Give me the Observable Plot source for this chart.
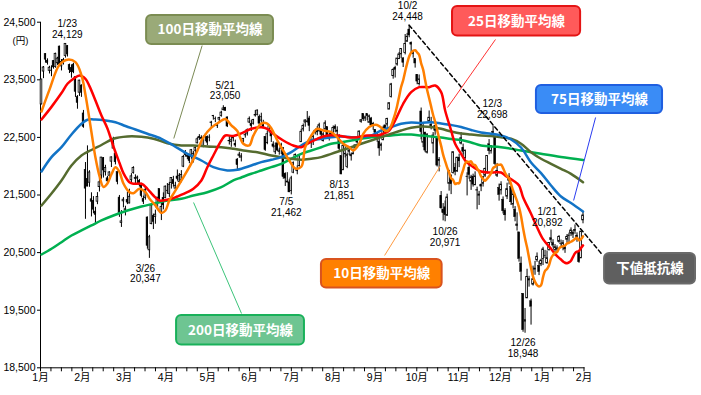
<!DOCTYPE html>
<html><head><meta charset="utf-8">
<script src="https://cdn.jsdelivr.net/npm/d3@7"></script>
<script src="https://cdn.jsdelivr.net/npm/@observablehq/plot@0.6"></script>
<style>
html,body{margin:0;padding:0;background:#fff;}
#chart{width:701px;height:395px;overflow:hidden;}
</style></head><body><div id="chart"></div>
<script>
// Daily candles [open, high, low, close], Nikkei 225, Jan 2018 – Feb 13 2019
const jan18 = [[23073,23506,23065,23506],[23643,23730,23520,23714],[23948,23952,23789,23849],[23832,23864,23755,23788],[23656,23734,23601,23710],[23660,23743,23554,23653],[23827,23833,23685,23714],[23721,23962,23701,23951],[23788,23891,23750,23868],[24078,24084,23735,23763],[23733,23852,23654,23808],[23840,23872,23756,23816],[23913,24129,23877,24124],[24085,24094,23896,23940],[23758,23773,23609,23669],[23707,23759,23528,23631],[23764,23787,23606,23629],[23550,23553,23194,23291],[23198,23226,22989,23098]];
const feb18 = [[23276,23492,23211,23486],[23401,23413,23195,23274],[22916,22968,22659,22682],[21937,22064,21078,21610],[21781,22353,21644,21645],[21713,21922,21634,21891],[21426,21538,21119,21383],[21400,21472,21175,21245],[21212,21287,21000,21154],[21384,21541,21332,21464],[21637,21789,21552,21720],[21838,22152,21773,22150],[22139,22151,21794,21925],[21895,22016,21829,21970],[21790,21822,21701,21736],[21834,21904,21760,21892],[22079,22160,21977,22153],[22306,22502,22296,22389],[22220,22228,22022,22068]];
const mar18 = [[21901,21901,21677,21724],[21455,21492,21112,21182],[21016,21229,20937,21042],[21390,21455,21277,21418],[21241,21305,21137,21253],[21417,21551,21333,21368],[21353,21600,21347,21469],[21756,21871,21687,21824],[21884,21991,21862,21968],[21797,21850,21678,21777],[21784,21829,21695,21803],[21745,21770,21639,21676],[21663,21703,21450,21480],[21428,21480,21335,21380],[21450,21645,21411,21591],[21110,21120,20560,20617],[20540,20800,20400,20766],[20994,21317,20983,21317],[21134,21168,20900,21031],[21119,21237,20992,21159],[21280,21454,21251,21454]];
const apr18 = [[21603,21603,21369,21388],[21207,21354,21056,21292],[21446,21537,21242,21319],[21443,21656,21443,21645],[21575,21699,21512,21567],[21519,21719,21459,21678],[21707,21794,21603,21794],[21757,21824,21638,21687],[21611,21721,21589,21660],[21821,21934,21743,21778],[21726,21872,21707,21835],[21755,21923,21712,21847],[21992,22187,21975,22158],[22208,22272,22158,22191],[22173,22205,22114,22162],[22191,22191,22044,22088],[22163,22291,22123,22278],[22092,22256,22056,22215],[22268,22335,22175,22319],[22397,22495,22387,22467]];
const may18 = [[22487,22548,22448,22508],[22493,22528,22428,22472],[22344,22524,22321,22467],[22518,22563,22427,22508],[22508,22525,22353,22408],[22496,22544,22424,22497],[22751,22779,22673,22758],[22868,22882,22799,22865],[22823,22853,22756,22818],[22699,22740,22655,22717],[22808,22852,22759,22838],[22870,22954,22851,22930],[22973,23050,22961,23002],[23014,23022,22953,22960],[22847,22856,22671,22689],[22433,22515,22367,22437],[22420,22503,22328,22450],[22493,22531,22422,22481],[22390,22452,22327,22358],[22115,22133,21931,22018],[22181,22242,22139,22201]];
const jun18 = [[22149,22218,22074,22171],[22426,22478,22400,22475],[22536,22568,22487,22539],[22566,22646,22524,22625],[22758,22856,22741,22823],[22730,22792,22603,22694],[22737,22813,22713,22804],[22886,22966,22852,22878],[22892,22975,22870,22966],[22851,22889,22711,22738],[22792,22920,22729,22851],[22736,22797,22655,22680],[22508,22511,22258,22278],[22401,22612,22373,22555],[22611,22714,22573,22693],[22556,22556,22412,22516],[22378,22424,22314,22338],[22241,22402,22199,22342],[22397,22459,22256,22271],[22245,22312,22191,22270],[22365,22398,22203,22304]];
const jul18 = [[22318,22318,21774,21811],[21864,21885,21648,21785],[21735,21888,21706,21717],[21719,21763,21540,21546],[21569,21825,21502,21788],[21887,22075,21869,22052],[22139,22214,22110,22196],[21914,22006,21851,21932],[22001,22203,21986,22187],[22417,22641,22417,22597],[22638,22733,22595,22697],[22757,22806,22678,22794],[22778,22949,22748,22764],[22829,22866,22600,22698],[22450,22450,22308,22397],[22438,22540,22359,22510],[22579,22624,22542,22614],[22647,22686,22528,22586],[22606,22746,22593,22712],[22625,22625,22480,22544],[22435,22583,22420,22553]];
const aug18 = [[22637,22787,22634,22746],[22678,22678,22493,22512],[22510,22567,22438,22525],[22592,22603,22482,22507],[22571,22698,22538,22662],[22687,22717,22580,22644],[22619,22684,22532,22598],[22497,22547,22240,22298],[22173,22173,21851,21857],[21929,22356,21928,22356],[22209,22337,22144,22204],[21985,22227,21957,22192],[22250,22301,22185,22270],[22173,22228,22089,22199],[22206,22299,22200,22219],[22315,22371,22277,22362],[22446,22468,22384,22410],[22488,22612,22483,22601],[22766,22811,22746,22799],[22906,22906,22777,22813],[22826,22873,22775,22848],[22902,22904,22791,22869],[22754,22889,22750,22865]];
const sep18 = [[22829,22847,22687,22707],[22733,22761,22624,22696],[22630,22633,22509,22580],[22512,22587,22415,22487],[22419,22477,22172,22307],[22352,22402,22261,22373],[22451,22694,22442,22664],[22709,22709,22549,22604],[22722,22833,22676,22821],[22982,23100,22982,23094],[23200,23438,23183,23420],[23564,23694,23511,23672],[23710,23736,23531,23674],[23764,23869,23737,23869],[23859,23975,23851,23940],[23942,24033,23868,24033],[23871,23886,23713,23796],[23966,24286,23932,24120]];
const oct18 = [[24161,24306,24152,24245],[24371,24448,24230,24270],[24138,24157,23960,24110],[23949,24011,23874,23975],[23859,23859,23703,23783],[23582,23591,23414,23469],[23425,23584,23391,23506],[22950,23010,22459,22590],[22408,22739,22323,22694],[22583,22589,22235,22271],[22234,22562,22212,22549],[22775,22959,22763,22841],[22722,22848,22630,22658],[22392,22583,22215,22532],[22695,22695,22536,22614],[22500,22500,21986,22010],[22106,22150,21901,22091],[21483,21560,21253,21268],[21242,21351,21050,21184],[21286,21396,21035,21149],[21141,21514,21127,21457],[21695,21920,21567,21920]];
const nov18 = [[21842,21842,21507,21687],[21881,22247,21863,22243],[21970,22047,21834,21898],[21910,22156,21890,22147],[22141,22208,21975,22085],[22391,22583,22370,22486],[22315,22384,22199,22250],[22140,22280,22074,22269],[21818,21886,21484,21810],[21972,22016,21773,21846],[21733,21842,21580,21803],[21817,21862,21637,21680],[21670,21902,21661,21821],[21578,21636,21243,21583],[21488,21563,21318,21507],[21674,21694,21558,21646],[21695,21812,21638,21812],[21835,21966,21802,21952],[21881,22177,21860,22177],[22380,22462,22198,22262],[22259,22359,22210,22351]];
const dec18 = [[22599,22698,22512,22574],[22506,22506,22010,22036],[21833,22048,21804,21919],[21622,21689,21393,21501],[21580,21730,21499,21679],[21418,21467,21170,21219],[21228,21263,21046,21148],[21471,21705,21420,21602],[21748,21871,21675,21816],[21638,21651,21318,21374],[21335,21559,21260,21506],[21246,21299,21035,21115],[20964,21190,20874,20987],[20851,20851,20334,20392],[20310,20423,20006,20166],[19785,19785,19117,19155],[19302,19530,19100,19327],[19706,20211,19701,20077],[20038,20088,19900,20015]];
const jan19 = [[19655,19692,19241,19561],[19944,20266,19920,20038],[20224,20347,20106,20204],[20366,20494,20331,20427],[20270,20345,20101,20163],[20296,20386,20257,20360],[20389,20592,20275,20555],[20446,20539,20398,20443],[20314,20529,20298,20402],[20545,20675,20525,20666],[20749,20892,20666,20719],[20664,20724,20580,20622],[20544,20639,20437,20593],[20552,20617,20495,20574],[20687,20794,20663,20773],[20653,20718,20610,20649],[20590,20709,20531,20664],[20605,20609,20487,20556],[20723,20813,20662,20773]];
const feb19 = [[20797,20838,20676,20788],[20831,20929,20778,20883],[20814,20882,20745,20844],[20896,20981,20817,20874],[20795,20843,20679,20751],[20510,20510,20315,20333],[20400,20869,20400,20864],[21060,21213,21000,21144]];

// Moving averages [trading-day index, value]
const ma10 = [[0,22950],[4,23330],[9,23760],[13,23850],[17,23806],[20,23580],[22,23240],[25,22590],[27,22150],[29,21830],[31,21640],[33,21700],[35,21860],[37,21980],[39,21900],[41,21700],[44,21550],[46,21530],[49,21610],[52,21550],[54,21440],[57,21320],[60,21190],[62,21230],[64,21410],[66,21520],[70,21750],[75,22050],[78,22270],[81,22500],[85,22670],[89,22765],[92,22820],[95,22710],[98,22610],[101,22390],[104,22360],[106,22530],[110,22740],[113,22740],[115,22660],[118,22450],[121,22270],[124,22100],[127,21960],[130,21990],[132,22330],[135,22530],[138,22650],[141,22620],[145,22590],[148,22500],[151,22390],[154,22330],[156,22273],[159,22390],[161,22560],[164,22680],[167,22719],[169,22697],[171,22640],[173,22610],[175,22705],[176,22802],[177,22912],[178,23050],[179,23213],[180,23379],[181,23492],[182,23644],[183,23786],[184,23904],[185,23973],[186,24003],[187,24014],[188,23974],[189,23931],[190,23786],[191,23676],[192,23491],[193,23322],[194,23179],[195,23034],[196,22889],[197,22772],[198,22627],[199,22485],[200,22353],[201,22202],[202,22090],[203,21980],[204,21888],[205,21791],[206,21762],[207,21691],[208,21704],[209,21704],[210,21826],[211,21932],[212,22044],[213,22080],[214,22072],[215,22084],[216,22027],[217,22020],[218,21963],[219,21906],[220,21822],[221,21778],[222,21746],[223,21783],[224,21824],[225,21879],[226,21969],[227,21990],[228,22024],[229,22023],[230,22026],[231,21967],[232,21887],[233,21829],[234,21785],[235,21687],[236,21580],[237,21488],[238,21395],[239,21284],[240,21133],[241,20926],[242,20744],[243,20592],[244,20411],[245,20230],[246,20083],[247,19992],[248,19936],[249,19913],[250,19933],[251,20073],[252,20184],[253,20217],[254,20282],[255,20398],[256,20456],[257,20495],[258,20510],[259,20571],[260,20600],[261,20611],[262,20622],[263,20659],[264,20671],[265,20688],[266,20710],[267,20738],[268,20756],[269,20712],[270,20733],[271,20781]];
const ma25 = [[0,22811],[5,23030],[10,23270],[13,23431],[16,23517],[19,23575],[22,23517],[24,23390],[27,23141],[30,22880],[33,22655],[36,22342],[39,22060],[41,21880],[44,21722],[46,21695],[50,21695],[53,21608],[56,21491],[59,21405],[61,21405],[65,21434],[68,21474],[73,21549],[76,21608],[80,21752],[83,21983],[86,22186],[90,22446],[92,22533],[96,22525],[100,22570],[105,22649],[110,22677],[113,22649],[116,22563],[121,22446],[126,22359],[130,22330],[133,22389],[138,22476],[143,22533],[148,22533],[153,22504],[158,22504],[163,22533],[168,22533],[171,22563],[174,22620],[177,22793],[181,23083],[185,23285],[189,23372],[194,23372],[197,23401],[200,23285],[202,22967],[205,22620],[207,22389],[210,22215],[212,22099],[215,22012],[220,21908],[225,21891],[230,21891],[232,21839],[236,21752],[239,21665],[241,21462],[245,21174],[248,20941],[251,20734],[255,20566],[257,20479],[259,20409],[260,20380],[261,20346],[262,20324],[263,20315],[264,20331],[265,20360],[266,20427],[267,20489],[268,20516],[269,20529],[270,20581],[271,20625]];
const ma75 = [[0,21908],[5,22157],[10,22330],[15,22550],[20,22736],[23,22806],[27,22811],[32,22793],[37,22764],[42,22698],[47,22637],[53,22563],[60,22476],[66,22360],[73,22215],[80,22099],[86,21983],[93,21926],[98,21938],[105,22012],[110,22070],[115,22111],[120,22157],[125,22243],[130,22359],[135,22446],[140,22476],[145,22504],[150,22516],[155,22504],[160,22504],[165,22533],[170,22620],[175,22677],[180,22736],[185,22759],[190,22750],[195,22764],[200,22741],[205,22715],[210,22681],[215,22629],[220,22585],[225,22563],[230,22533],[235,22464],[240,22325],[245,22064],[250,21880],[255,21665],[260,21474],[265,21361],[271,21214]];
const ma100 = [[0,21318],[5,21526],[10,21752],[15,22012],[20,22186],[25,22281],[30,22368],[36,22476],[43,22516],[50,22510],[56,22476],[63,22400],[70,22360],[76,22360],[83,22342],[90,22330],[96,22302],[101,22273],[108,22243],[115,22186],[120,22157],[125,22129],[130,22111],[135,22129],[140,22157],[145,22215],[150,22273],[155,22330],[160,22389],[165,22446],[170,22504],[175,22563],[180,22620],[185,22667],[190,22689],[195,22681],[200,22649],[205,22603],[210,22568],[215,22550],[220,22533],[225,22524],[230,22504],[235,22476],[240,22389],[245,22243],[250,22129],[255,22042],[260,21955],[265,21868],[271,21722]];
const ma200 = [[0,20467],[5,20566],[10,20681],[15,20797],[20,20884],[25,20971],[30,21058],[36,21144],[43,21231],[50,21301],[56,21347],[63,21405],[70,21434],[76,21491],[83,21549],[90,21636],[96,21752],[100,21804],[105,21868],[110,21926],[115,21983],[120,22042],[125,22129],[130,22215],[135,22273],[140,22330],[145,22389],[150,22417],[155,22446],[160,22476],[165,22504],[170,22521],[175,22533],[180,22550],[185,22550],[190,22533],[195,22516],[200,22498],[205,22472],[210,22455],[215,22412],[220,22360],[230,22330],[240,22273],[250,22215],[260,22160],[271,22108]];

// Resistance line (10/2 high through 12/3 high)
const resist = [[184,24448],[280.6,20467]];

// Axis labels
const monthLabels = ["1月","2月","3月","4月","5月","6月","7月","8月","9月","10月","11月","12月","1月","2月"];
const yTicks = [18500,19500,20500,21500,22500,23500,24500];

// Point labels: trading-day index, value anchor, text
const peakIdx   = [12.9, 91.9, 52.0, 122.5, 149.0, 183.2, 202.0, 225.6, 241.0, 253.1];
const peakPos   = [24382, 23314, 20137, 21293, 21585, 24700, 20771, 22997, 18847, 21122];
const peakDates = ["1/23","5/21","3/26","7/5","8/13","10/2","10/26","12/3","12/26","1/21"];
const peakVals  = [24129, 23050, 20347, 21462, 21851, 24448, 20971, 22698, 18948, 20892];

// ----- build tables -----
const months = [jan18,feb18,mar18,apr18,may18,jun18,jul18,aug18,sep18,oct18,nov18,dec18,jan19,feb19];
const candles = months.flat().map((d,i) => ({i, o:d[0], h:d[1], l:d[2], c:d[3], up: d[3] >= d[0]}));
const fmt = d3.format(",");
const peaks = peakIdx.map((x,k) => ({i:x, v:peakPos[k], t: peakDates[k] + "\n" + fmt(peakVals[k])}));

const FONT = '"Liberation Sans","Noto Sans CJK JP",Arial,sans-serif';
const N = 272;
const xTicks = d3.range(53).map(k => -0.5 + k * N / 52);
const xFmt = d => { const k = Math.round((d + 0.5) * 52 / N); return k % 4 === 0 ? monthLabels[k / 4] : ""; };

// Callouts (anchored in chart data coordinates)
const callouts = [
  {label:"100日移動平均線", x1:52.6, x2:116.1, y1:24113, y2:24616, lx1:80.4, ly1:24095, lx2:66.2, ly2:22481, fill:"#9aaa78", stroke:"#7b8c52", line:"#7b8a55"},
  {label:"25日移動平均線", x1:205.7, x2:269.8, y1:24260, y2:24773, lx1:227.2, ly1:24200, lx2:203.2, ly2:23019, fill:"#ff5a5a", stroke:"#e41414", line:"#ff3333"},
  {label:"75日移動平均線", x1:247.7, x2:310.8, y1:22915, y2:23401, lx1:277.3, ly1:22846, lx2:266.3, ly2:21405, fill:"#3a8cf6", stroke:"#1f5fe0", line:"#2a3cf0"},
  {label:"10日移動平均線", x1:140.1, x2:200.5, y1:19886, y2:20380, lx1:171.7, ly1:20450, lx2:199.7, ly2:22012, fill:"#ff8000", stroke:"#d9531e", line:"#ff9a40"},
  {label:"200日移動平均線", x1:67.6, x2:131.6, y1:18896, y2:19408, lx1:100.1, ly1:19443, lx2:76.1, ly2:21370, fill:"#6ec592", stroke:"#19b15a", line:"#3cc47a"},
  {label:"下値抵抗線", x1:281.8, x2:327.3, y1:19955, y2:20484, fill:"#5f5f5f", stroke:"#6a6a6a"}
];

const maSeries = [
  {data: ma200, color: "#00b050"},
  {data: ma100, color: "#556b2f"},
  {data: ma75,  color: "#1273c6"},
  {data: ma25,  color: "#ff0000"},
  {data: ma10,  color: "#ff7f00"}
];

const calloutMarks = callouts.flatMap(c => {
  const m = [];
  if (c.lx1 !== undefined) m.push(Plot.link([c], {x1: "lx1", y1: "ly1", x2: "lx2", y2: "ly2", stroke: c.line, strokeWidth: 1}));
  m.push(Plot.rect([c], {x1: "x1", x2: "x2", y1: "y1", y2: "y2", fill: c.fill, stroke: c.stroke, strokeWidth: 2, rx: 5}));
  m.push(Plot.text([c], {x: d => (d.x1 + d.x2) / 2, y: d => (d.y1 + d.y2) / 2, text: "label", fill: "#fff", fontSize: 13.5, fontWeight: "bold", fontFamily: '"Noto Sans CJK JP","Noto Sans",sans-serif'}));
  return m;
});

const chart = Plot.plot({
  width: 701, height: 395,
  marginLeft: 40, marginRight: 117.5, marginTop: 21.7, marginBottom: 27.7,
  style: {fontFamily: FONT, fontSize: "10.5px", background: "#fff", overflow: "visible"},
  x: {domain: [-0.5, N - 0.5], ticks: xTicks, tickFormat: xFmt, tickSize: 4, tickPadding: 2, line: true, label: null},
  y: {domain: [18500, 24500], ticks: yTicks, tickFormat: fmt, tickSize: 3, tickPadding: 2, line: true, label: null},
  marks: [
    Plot.ruleX(candles, {x: "i", y1: "l", y2: "h", stroke: "#000", strokeWidth: 1}),
    Plot.rect(candles.filter(d => !d.up), {x1: d => d.i - 0.42, x2: d => d.i + 0.42, y1: "o", y2: "c", fill: "#000", stroke: "#000", strokeWidth: 0.5}),
    Plot.rect(candles.filter(d => d.up), {x1: d => d.i - 0.42, x2: d => d.i + 0.42, y1: "o", y2: "c", fill: "#fff", stroke: "#000", strokeWidth: 0.8}),
    ...maSeries.map(s => Plot.line(s.data, {x: d => d[0], y: d => d[1], stroke: s.color, strokeWidth: 2.5, curve: "catmull-rom"})),
    Plot.line(resist, {x: d => d[0], y: d => d[1], stroke: "#000", strokeWidth: 1.5, strokeDasharray: "4,3"}),
    Plot.text(peaks, {x: "i", y: "v", text: "t", fontSize: 10, lineHeight: 1.08, fill: "#000"}),
    ...calloutMarks,
    Plot.text(["(円)"], {text: d => d, frameAnchor: "top-left", dx: -20, dy: 15.5, textAnchor: "middle", fontSize: 9.5})
  ]
});
document.getElementById("chart").append(chart);
</script>
</body></html>
